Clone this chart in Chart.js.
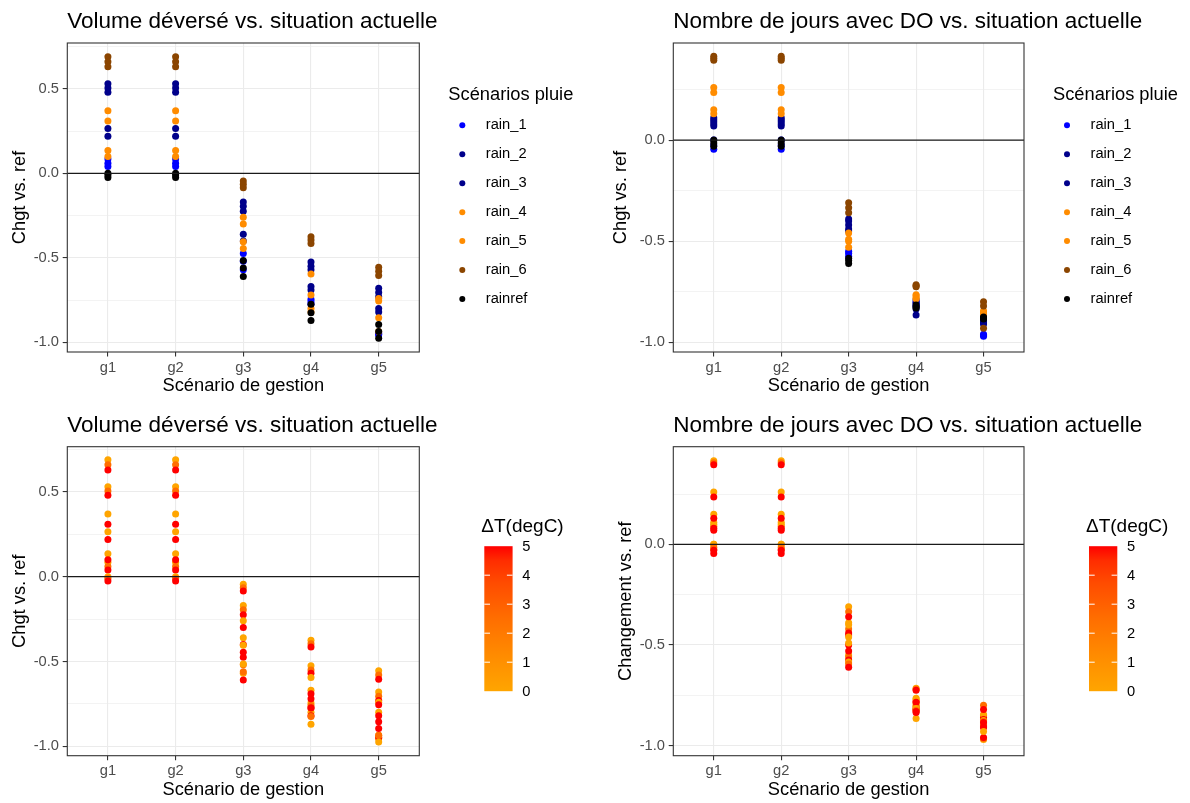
<!DOCTYPE html>
<html>
<head>
<meta charset="utf-8">
<title>Scénarios de gestion</title>
<script src="https://cdn.jsdelivr.net/npm/chart.js@4.4.0/dist/chart.umd.min.js"></script>
<style>
  html, body { margin: 0; padding: 0; background: #fff; }
  #wrap { position: relative; width: 1190px; height: 803px; }
  .cell { position: absolute; }
</style>
</head>
<body>
<div id="wrap">
  <div class="cell" style="left:0;top:0"><canvas id="c1" width="595" height="401"></canvas></div>
  <div class="cell" style="left:595px;top:0"><canvas id="c2" width="595" height="401"></canvas></div>
  <div class="cell" style="left:0;top:401px"><canvas id="c3" width="595" height="402"></canvas></div>
  <div class="cell" style="left:595px;top:401px"><canvas id="c4" width="595" height="402"></canvas></div>
</div>
<script>
// Data
const groups = ['g1', 'g2', 'g3', 'g4', 'g5'];
const scenarios = ['rain_1', 'rain_2', 'rain_3', 'rain_4', 'rain_5', 'rain_6', 'rainref'];
const dtTicks = [0, 1, 2, 3, 4, 5];

// warming (degC) of each run, per rain scenario
const dtRain1 = [0, 2.5, 5];
const dtRain2 = [0, 2.5, 5];
const dtRain3 = [0, 5];
const dtRain4 = [0, 5];
const dtRain5 = [0, 5];
const dtRain6 = [0, 2.5, 5];
const dtRainref = [0, 2.5, 5];

// Volume déversé: change vs. ref, one list of runs per management scenario g1..g5
const volRain1 = [[0.085, 0.06, 0.04], [0.085, 0.06, 0.04], [-0.57, -0.52, -0.475], [-0.745, -0.76, -0.775], [-0.955, -0.95, -0.945]];
const volRain2 = [[0.53, 0.505, 0.48], [0.53, 0.505, 0.48], [-0.17, -0.195, -0.225], [-0.525, -0.55, -0.57], [-0.68, -0.705, -0.73]];
const volRain3 = [[0.265, 0.22], [0.265, 0.22], [-0.36, -0.40], [-0.67, -0.69], [-0.80, -0.82]];
const volRain4 = [[0.37, 0.31], [0.37, 0.31], [-0.26, -0.30], [-0.595, -0.72], [-0.74, -0.755]];
const volRain5 = [[0.135, 0.10], [0.135, 0.10], [-0.405, -0.445], [-0.80, -0.82], [-0.935, -0.855]];
const volRain6 = [[0.69, 0.66, 0.63], [0.69, 0.66, 0.63], [-0.045, -0.065, -0.085], [-0.375, -0.395, -0.415], [-0.555, -0.58, -0.605]];
const volRainref = [[0.0, -0.01, -0.025], [0.0, -0.01, -0.025], [-0.515, -0.56, -0.61], [-0.87, -0.825, -0.775], [-0.975, -0.935, -0.895]];

// Nombre de jours avec DO: change vs. ref
const joursRain1 = [[0.0, -0.025, -0.045], [0.0, -0.025, -0.045], [-0.55, -0.56, -0.575], [-0.80, -0.81, -0.82], [-0.97, -0.965, -0.96]];
const joursRain2 = [[0.11, 0.09, 0.07], [0.11, 0.09, 0.07], [-0.39, -0.42, -0.45], [-0.79, -0.805, -0.82], [-0.89, -0.90, -0.91]];
const joursRain3 = [[0.10, 0.08], [0.10, 0.08], [-0.40, -0.44], [-0.865, -0.835], [-0.895, -0.905]];
const joursRain4 = [[0.26, 0.235], [0.26, 0.235], [-0.46, -0.50], [-0.765, -0.78], [-0.85, -0.86]];
const joursRain5 = [[0.15, 0.13], [0.15, 0.13], [-0.49, -0.53], [-0.77, -0.785], [-0.845, -0.87]];
const joursRain6 = [[0.415, 0.405, 0.395], [0.415, 0.405, 0.395], [-0.31, -0.335, -0.36], [-0.715, -0.72, -0.725], [-0.93, -0.80, -0.82]];
const joursRainref = [[0.0, -0.015, -0.03], [0.0, -0.015, -0.03], [-0.585, -0.595, -0.61], [-0.815, -0.825, -0.83], [-0.875, -0.88, -0.885]];

const scenarioDT = [dtRain1, dtRain2, dtRain3, dtRain4, dtRain5, dtRain6, dtRainref];
const volume = [volRain1, volRain2, volRain3, volRain4, volRain5, volRain6, volRainref];
const jours = [joursRain1, joursRain2, joursRain3, joursRain4, joursRain5, joursRain6, joursRainref];

// styling
const rainColors = ['#0000FF', '#00008B', '#00008B', '#FF8C00', '#FF8C00', '#8B4500', '#000000'];
// orange -> red, green channel sampled along a Lab interpolation
const heatStops = [[0, 165], [0.25, 139], [0.5, 110], [0.75, 75], [0.9, 45], [1, 0]];
const FONT = "'Liberation Sans', Arial, sans-serif";

Chart.defaults.font.family = FONT;
Chart.defaults.color = '#4D4D4D';

function heatColor(dt) {
    const t = Math.max(0, Math.min(1, dt / 5));
    for (let i = 1; i < heatStops.length; i++) {
        const [t0, g0] = heatStops[i - 1];
        const [t1, g1] = heatStops[i];
        if (t <= t1) {
            const g = g0 + (g1 - g0) * (t - t0) / (t1 - t0);
            return `rgb(255,${Math.round(g)},0)`;
        }
    }
    return 'rgb(255,0,0)';
}

function isMajor(v) {
    return Math.abs(v * 2 - Math.round(v * 2)) < 1e-6;
}

// titles, zero line, panel border and legends in ggplot style
const ggDecor = {
    id: 'ggDecor',
    afterDatasetsDraw(chart, args, o) {
        const { ctx, chartArea: a } = chart;
        const y0 = chart.scales.y.getPixelForValue(0);
        ctx.save();
        ctx.strokeStyle = '#1a1a1a';
        ctx.lineWidth = 1.3;
        ctx.beginPath();
        ctx.moveTo(a.left, y0);
        ctx.lineTo(a.right, y0);
        ctx.stroke();
        ctx.strokeStyle = '#333333';
        ctx.lineWidth = 1.1;
        ctx.strokeRect(a.left, a.top, a.right - a.left, a.bottom - a.top);
        ctx.restore();
    },
    afterDraw(chart, args, o) {
        const { ctx, chartArea: a } = chart;
        ctx.save();
        ctx.fillStyle = '#000';
        ctx.textBaseline = 'alphabetic';
        ctx.textAlign = 'left';
        ctx.font = `22.5px ${FONT}`;
        ctx.fillText(o.title, a.left, a.top - 15);

        if (o.legend === 'rain') {
            ctx.font = `18.3px ${FONT}`;
            ctx.fillText('Scénarios pluie', a.right + 29, a.top + 57);
            ctx.font = `14.7px ${FONT}`;
            ctx.textBaseline = 'middle';
            scenarios.forEach((name, s) => {
                const yy = a.top + 82.3 + 28.95 * s;
                ctx.fillStyle = rainColors[s];
                ctx.beginPath();
                ctx.arc(a.right + 43, yy, 3, 0, Math.PI * 2);
                ctx.fill();
                ctx.fillStyle = '#000';
                ctx.fillText(name, a.right + 66.5, yy);
            });
        } else {
            ctx.font = `19px ${FONT}`;
            ctx.fillText('\u0394T(degC)', a.right + 62, a.top + 85);
            const bx = a.right + 65, bw = 28.3, top = a.top + 99.5, h = 145;
            const grad = ctx.createLinearGradient(0, top + h, 0, top);
            heatStops.forEach(([t]) => grad.addColorStop(t, heatColor(t * 5)));
            ctx.fillStyle = grad;
            ctx.fillRect(bx, top, bw, h);
            const dmax = dtTicks[dtTicks.length - 1];
            ctx.strokeStyle = '#fff';
            ctx.lineWidth = 1;
            ctx.font = `14.7px ${FONT}`;
            ctx.textBaseline = 'middle';
            dtTicks.forEach(v => {
                const yy = top + h - h * v / dmax;
                if (v > 0 && v < dmax) {
                    ctx.beginPath();
                    ctx.moveTo(bx, yy); ctx.lineTo(bx + 5.7, yy);
                    ctx.moveTo(bx + bw - 5.7, yy); ctx.lineTo(bx + bw, yy);
                    ctx.stroke();
                }
                ctx.fillStyle = '#000';
                ctx.fillText(String(v), bx + bw + 9.7, yy + 0.7);
            });
        }
        ctx.restore();
    }
};

function buildPanel(id, cfg) {
    const canvas = document.getElementById(id);
    const datasets = scenarios.map((name, s) => {
        const pts = [];
        cfg.values[s].forEach((runs, gi) => {
            runs.forEach((v, r) => pts.push({ x: gi + 1, y: v, dt: scenarioDT[s][r] }));
        });
        return {
            label: name,
            data: pts,
            order: scenarios.length - s,
            pointRadius: 3.5,
            pointHoverRadius: 3.5,
            pointBorderWidth: 0,
            pointBackgroundColor: cfg.legend === 'heat' ? pts.map(p => heatColor(p.dt)) : rainColors[s],
            pointBorderColor: 'rgba(0,0,0,0)'
        };
    });

    return new Chart(canvas, {
        type: 'scatter',
        data: { datasets },
        plugins: [ggDecor],
        options: {
            responsive: false,
            animation: false,
            events: [],
            layout: {
                padding: {
                    left: 0,
                    top: cfg.top,
                    right: canvas.width - cfg.right,
                    bottom: canvas.height - cfg.bottom - 45.3
                }
            },
            plugins: {
                legend: { display: false },
                title: { display: false },
                tooltip: { enabled: false },
                ggDecor: { title: cfg.title, legend: cfg.legend }
            },
            scales: {
                x: {
                    type: 'linear',
                    min: 0.4,
                    max: 5.6,
                    afterBuildTicks: sc => { sc.ticks = groups.map((g, i) => ({ value: i + 1 })); },
                    afterFit: sc => { sc.height = 45.3; },
                    ticks: {
                        callback: (v, i) => groups[i],
                        color: '#4D4D4D',
                        font: { size: 14.7 },
                        padding: 2.2,
                        autoSkip: false,
                        maxRotation: 0
                    },
                    grid: { color: '#EBEBEB', lineWidth: 1.1, tickColor: '#333333', tickLength: 4.6, tickWidth: 1.1 },
                    border: { display: false },
                    title: { display: true, text: 'Scénario de gestion', color: '#000', font: { size: 18.3 }, padding: 0 }
                },
                y: {
                    min: cfg.yMin,
                    max: cfg.yMax,
                    afterBuildTicks: sc => {
                        const t = [];
                        for (let v = Math.ceil(sc.min / 0.25) * 0.25; v <= sc.max + 1e-9; v += 0.25) {
                            t.push({ value: Math.round(v * 100) / 100 });
                        }
                        sc.ticks = t;
                    },
                    afterFit: sc => { sc.width = cfg.left; },
                    ticks: {
                        callback: v => isMajor(v) ? v.toFixed(1) : '',
                        color: '#4D4D4D',
                        font: { size: 14.7 },
                        padding: 3.7
                    },
                    grid: {
                        color: '#EBEBEB',
                        lineWidth: c => isMajor(c.tick.value) ? 1.1 : 0.6,
                        tickColor: c => isMajor(c.tick.value) ? '#333333' : 'rgba(0,0,0,0)',
                        tickLength: 4.6,
                        tickWidth: 1.1
                    },
                    border: { display: false },
                    title: { display: true, text: cfg.yTitle, color: '#000', font: { size: 18.3 }, padding: { top: cfg.yTitlePad } }
                }
            }
        }
    });
}

buildPanel('c1', {
    values: volume, legend: 'rain', title: 'Volume déversé vs. situation actuelle',
    yTitle: 'Chgt vs. ref', yTitlePad: 9, yMin: -1.057, yMax: 0.771,
    left: 67.3, right: 419.3, top: 43, bottom: 352
});
buildPanel('c2', {
    values: jours, legend: 'rain', title: 'Nombre de jours avec DO vs. situation actuelle',
    yTitle: 'Chgt vs. ref', yTitlePad: 15, yMin: -1.048, yMax: 0.48,
    left: 78.3, right: 429, top: 43, bottom: 352
});
buildPanel('c3', {
    values: volume, legend: 'heat', title: 'Volume déversé vs. situation actuelle',
    yTitle: 'Chgt vs. ref', yTitlePad: 9, yMin: -1.056, yMax: 0.767,
    left: 67.3, right: 419.3, top: 45.7, bottom: 354.7
});
buildPanel('c4', {
    values: jours, legend: 'heat', title: 'Nombre de jours avec DO vs. situation actuelle',
    yTitle: 'Changement vs. ref', yTitlePad: 20, yMin: -1.05, yMax: 0.485,
    left: 78.3, right: 429, top: 45.7, bottom: 354.7
});
</script>
</body>
</html>
